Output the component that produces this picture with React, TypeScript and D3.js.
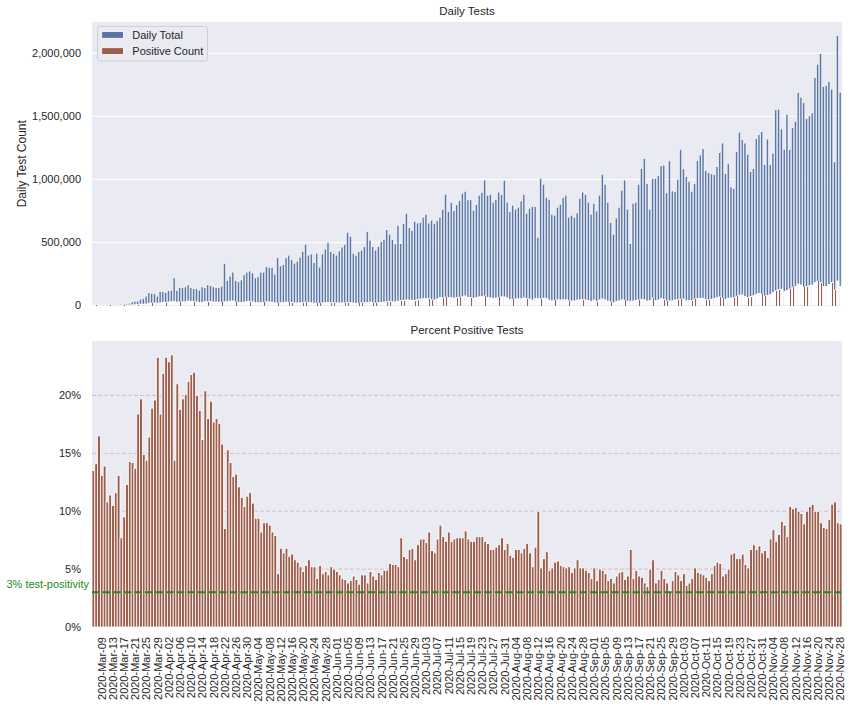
import React from "react";
import * as d3 from "d3";

const START_DATE = new Date(2020, 2, 6);
const N_DAYS = 268;

// Daily total tests (thousands)
const TOTAL_K = [
  2, 2, 3, 3, 4, 5, 5, 6, 7, 8,
  9, 9, 12, 18, 28, 34, 34, 49, 55, 74,
  101, 95, 92, 74, 110, 110, 101, 117, 120, 218,
  117, 141, 141, 147, 163, 141, 132, 132, 120, 147,
  141, 163, 156, 147, 141, 141, 153, 331, 196, 233,
  264, 196, 187, 202, 242, 264, 273, 258, 218, 227,
  264, 264, 307, 301, 301, 248, 378, 313, 325, 377,
  399, 362, 334, 350, 383, 429, 485, 399, 408, 340,
  414, 304, 408, 448, 500, 429, 414, 399, 432, 463,
  488, 580, 549, 414, 396, 429, 439, 466, 586, 518,
  469, 439, 466, 506, 524, 601, 564, 521, 488, 635,
  491, 647, 730, 616, 595, 669, 653, 659, 699, 724,
  653, 675, 647, 672, 699, 761, 880, 745, 816, 751,
  797, 831, 889, 905, 837, 837, 754, 800, 874, 896,
  994, 874, 880, 819, 840, 899, 880, 991, 819, 742,
  794, 764, 779, 828, 880, 730, 770, 785, 785, 540,
  1006, 960, 856, 840, 724, 715, 779, 800, 856, 874,
  699, 715, 699, 733, 850, 899, 880, 819, 724, 810,
  748, 874, 1040, 960, 819, 656, 564, 693, 779, 914,
  994, 764, 491, 810, 819, 960, 1086, 1165, 966, 764,
  1006, 1006, 1031, 1107, 1113, 892, 1147, 908, 902, 1000,
  1236, 1083, 1021, 985, 905, 966, 1147, 1193, 1242, 1070,
  1052, 1043, 1037, 1101, 1218, 1288, 1046, 1123, 939, 932,
  1218, 1374, 1313, 1288, 1202, 1061, 1086, 1322, 1353, 1383,
  1116, 1319, 1116, 1208, 1555, 1555, 1399, 1239, 1512, 1239,
  1408, 1460, 1690, 1650, 1607, 1481, 1503, 1527, 1806, 1911,
  1997, 1736, 1745, 1776, 1714, 1138, 2141, 1690,
];

// Positive count (thousands)
const POSITIVE_K = [
  0.3, 0.3, 0.5, 0.4, 0.6, 0.5, 0.6, 0.6, 0.8, 1.0,
  0.7, 0.9, 1.5, 2.6, 4.0, 4.7, 6.3, 9.7, 8.2, 10.7,
  16.6, 18.0, 18.0, 17.2, 20.2, 24.1, 23.5, 26.8, 28.2, 31.4,
  24.6, 26.5, 27.8, 29.5, 34.6, 30.7, 29.0, 26.4, 22.4, 23.8,
  28.8, 29.3, 30.4, 26.0, 25.4, 24.8, 24.2, 28.1, 30.0, 33.1,
  34.3, 25.9, 22.6, 22.6, 25.2, 29.8, 31.7, 27.6, 20.5, 21.3,
  21.6, 23.8, 27.6, 26.5, 24.7, 19.6, 17.4, 21.3, 20.8, 25.6,
  24.3, 22.8, 19.4, 19.6, 19.9, 20.6, 25.7, 23.1, 21.2, 17.7,
  17.4, 16.1, 18.8, 21.5, 22.5, 22.3, 20.7, 19.2, 19.4, 19.4,
  20.0, 22.0, 22.0, 18.2, 16.2, 15.9, 19.8, 21.0, 22.3, 24.9,
  20.6, 18.0, 21.9, 22.8, 25.7, 29.4, 31.0, 28.1, 26.4, 33.0,
  37.8, 39.5, 43.1, 41.3, 40.5, 38.8, 46.4, 50.1, 53.1, 52.9,
  53.5, 44.6, 41.4, 51.1, 61.5, 59.4, 65.1, 61.1, 60.4, 57.1,
  61.4, 64.0, 68.5, 75.1, 63.6, 61.9, 55.8, 62.4, 68.2, 69.9,
  73.6, 62.9, 59.0, 54.9, 58.0, 63.8, 67.8, 66.4, 59.0, 46.0,
  47.6, 51.2, 52.2, 53.0, 59.8, 52.6, 49.3, 40.8, 54.2, 54.0,
  51.3, 56.6, 55.6, 41.2, 36.9, 40.0, 44.4, 42.4, 44.5, 44.6,
  36.3, 33.6, 35.6, 42.5, 43.4, 45.8, 43.1, 38.5, 30.4, 41.3,
  29.9, 43.7, 51.0, 44.2, 32.8, 27.6, 21.4, 30.5, 36.6, 43.9,
  40.8, 33.6, 32.9, 34.0, 40.1, 42.2, 46.7, 44.3, 33.8, 38.2,
  58.3, 38.2, 42.3, 54.2, 46.7, 33.9, 34.4, 36.3, 43.3, 45.0,
  49.4, 49.8, 36.8, 37.4, 38.0, 49.3, 53.9, 54.9, 55.9, 46.0,
  42.1, 48.0, 55.0, 61.7, 67.0, 56.7, 48.1, 56.2, 59.2, 59.6,
  71.9, 81.1, 82.7, 69.6, 61.3, 71.1, 77.1, 88.6, 94.7, 88.5,
  73.7, 79.1, 84.8, 101.5, 115.1, 124.4, 127.3, 109.0, 117.9, 128.9,
  143.6, 150.4, 169.0, 161.7, 143.0, 148.1, 156.3, 161.9, 180.6, 191.1,
  179.7, 149.3, 148.3, 165.2, 181.7, 122.9, 192.7, 150.4,
];

// Percent positive
const PCT_POSITIVE = [
  13.5, 14.1, 16.5, 13.1, 13.9, 10.8, 11.4, 10.5, 11.6, 13.1,
  7.7, 9.5, 12.3, 14.3, 14.2, 13.7, 18.4, 19.7, 14.9, 14.4,
  16.4, 18.9, 19.6, 23.3, 18.4, 21.9, 23.3, 22.9, 23.5, 14.4,
  21.0, 18.8, 19.7, 20.1, 21.2, 21.8, 22.0, 20.0, 18.7, 16.2,
  20.4, 18.0, 19.5, 17.7, 18.0, 17.6, 15.8, 8.5, 15.3, 14.2,
  13.0, 13.2, 12.1, 11.2, 10.4, 11.3, 11.6, 10.7, 9.4, 9.4,
  8.2, 9.0, 9.0, 8.8, 8.2, 7.9, 4.6, 6.8, 6.4, 6.8,
  6.1, 6.3, 5.8, 5.6, 5.2, 4.8, 5.3, 5.8, 5.2, 5.2,
  4.2, 5.3, 4.6, 4.8, 4.5, 5.2, 5.0, 4.8, 4.5, 4.2,
  4.1, 3.8, 4.0, 4.4, 4.1, 3.7, 4.5, 4.5, 3.8, 4.8,
  4.4, 4.1, 4.7, 4.5, 4.9, 4.9, 5.5, 5.4, 5.4, 5.2,
  7.7, 6.1, 5.9, 6.7, 6.8, 5.8, 7.1, 7.6, 7.6, 7.3,
  8.2, 6.6, 6.4, 7.6, 8.8, 7.8, 7.4, 8.2, 7.4, 7.6,
  7.7, 7.7, 7.7, 8.3, 7.6, 7.4, 7.4, 7.8, 7.8, 7.8,
  7.4, 7.2, 6.7, 6.7, 6.9, 7.1, 7.7, 6.7, 7.2, 6.2,
  6.0, 6.7, 6.7, 6.4, 6.8, 7.2, 6.4, 5.2, 6.9, 10.0,
  5.1, 5.9, 6.5, 4.9, 5.1, 5.6, 5.7, 5.3, 5.2, 5.1,
  5.2, 4.7, 5.1, 5.8, 5.1, 5.1, 4.9, 4.7, 4.2, 5.1,
  4.0, 5.0, 4.9, 4.6, 4.0, 4.2, 3.8, 4.4, 4.7, 4.8,
  4.1, 4.4, 6.7, 4.2, 4.9, 4.4, 4.3, 3.8, 3.5, 5.0,
  5.8, 3.8, 4.1, 4.9, 4.2, 3.8, 3.0, 4.0, 4.8, 4.5,
  4.0, 4.6, 3.6, 3.8, 4.2, 5.1, 4.7, 4.6, 4.5, 4.3,
  4.0, 4.6, 5.3, 5.6, 5.5, 4.4, 4.6, 5.0, 6.3, 6.4,
  5.9, 5.9, 6.3, 5.4, 5.1, 6.7, 7.1, 6.7, 7.0, 6.4,
  6.6, 6.0, 7.6, 8.4, 7.4, 8.0, 9.1, 8.8, 7.8, 10.4,
  10.2, 10.3, 10.0, 9.8, 8.9, 10.0, 10.4, 10.6, 10.0, 10.0,
  9.0, 8.6, 8.5, 9.3, 10.6, 10.8, 9.0, 8.9,
];

const TOP_TICKS = [0, 500000, 1000000, 1500000, 2000000];
const BOTTOM_TICKS = [0, 5, 10, 15, 20];
const GRID_PCT = [5, 10, 15, 20];
const THRESHOLD_PCT = 3;
const LEGEND_LABELS = ["Daily Total", "Positive Count"];

const W = 852;
const H = 708;
const L = 92;
const R = 842;
const T1 = 22;
const B1 = 305.5;
const T2 = 341;
const B2 = 627;
const BLUE = "#5975a4";
const BROWN = "#9d5e4d";
const BG = "#EAEAF2";
const TXT = "#262626";
const GREEN = "#228B22";
const FONT = "'Liberation Sans', Arial, sans-serif";

export default function App() {
  const dates = d3.range(N_DAYS).map((i) => d3.timeDay.offset(START_DATE, i));
  const x = d3.scaleBand<number>().domain(d3.range(N_DAYS)).range([L, R]).padding(0);
  const bw = x.bandwidth();
  const y1 = d3.scaleLinear().domain([0, 2248000]).range([B1, T1]);
  const y2 = d3.scaleLinear().domain([0, 24.7]).range([B2, T2]);
  const fmt = d3.format(",");
  const dfmt = d3.timeFormat("%Y-%b-%d");
  const tickIdx = d3.range(3, N_DAYS, 4);

  return (
    <svg
      width={W}
      height={H}
      style={{ position: "absolute", left: 0, top: 0, background: "#fff" }}
      fontFamily={FONT}
    >
      {/* ---------- Top panel ---------- */}
      <rect x={L} y={T1} width={R - L} height={B1 - T1} fill={BG} />
      {TOP_TICKS.map((t) => (
        <g key={"tt" + t}>
          <line x1={L} x2={R} y1={y1(t)} y2={y1(t)} stroke="#fff" strokeWidth={1} />
          <text x={81} y={y1(t)} dy="0.35em" textAnchor="end" fontSize={11} fill={TXT}>
            {fmt(t)}
          </text>
        </g>
      ))}
      {TOTAL_K.map((v, i) => {
        const c = (x(i) as number) + bw / 2;
        const yy = y1(v * 1000);
        return (
          <rect
            key={"b" + i}
            x={c - 1.45}
            y={yy}
            width={1.95}
            height={B1 - yy}
            fill={BLUE}
            stroke="#fff"
            strokeWidth={0.45}
          />
        );
      })}
      {POSITIVE_K.map((v, i) => {
        const xi = x(i) as number;
        const yy = y1(v * 1000);
        return (
          <rect key={"pw" + i} x={xi} y={yy - 0.6} width={bw} height={B1 - yy + 0.6} fill="#fff" />
        );
      })}
      {POSITIVE_K.map((v, i) => {
        const c = (x(i) as number) + bw / 2;
        const yy = y1(v * 1000);
        return (
          <rect
            key={"pb" + i}
            x={c + 0.2}
            y={yy}
            width={0.3}
            height={B1 - yy}
            fill={BROWN}
            shapeRendering="crispEdges"
          />
        );
      })}
      <text x={(L + R) / 2} y={15} textAnchor="middle" fontSize={11.5} fill={TXT}>
        Daily Tests
      </text>
      <text
        transform={`translate(22,${(T1 + B1) / 2}) rotate(-90)`}
        textAnchor="middle"
        dy="0.35em"
        fontSize={12}
        fill={TXT}
      >
        Daily Test Count
      </text>
      {/* legend */}
      <g>
        <rect x={97.5} y={26.5} width={110} height={34.5} rx={2.5} fill={BG} stroke="#cfcfd6" strokeWidth={1} />
        {LEGEND_LABELS.map((lab, k) => (
          <g key={lab}>
            <rect
              x={101.7}
              y={31.5 + k * 16.2}
              width={21.7}
              height={6.8}
              fill={k === 0 ? BLUE : BROWN}
              stroke="#fff"
              strokeWidth={0.8}
            />
            <text x={132.3} y={35 + k * 16.2} dy="0.35em" fontSize={11} fill={TXT}>
              {lab}
            </text>
          </g>
        ))}
      </g>

      {/* ---------- Bottom panel ---------- */}
      <rect x={L} y={T2} width={R - L} height={B2 - T2} fill={BG} />
      {GRID_PCT.map((t) => (
        <line
          key={"g" + t}
          x1={L}
          x2={R}
          y1={y2(t)}
          y2={y2(t)}
          stroke="#dcbcc6"
          strokeWidth={1}
          strokeDasharray="4,2"
        />
      ))}
      {BOTTOM_TICKS.map((t) => (
        <text key={"bt" + t} x={81} y={y2(t)} dy="0.35em" textAnchor="end" fontSize={11} fill={TXT}>
          {t + "%"}
        </text>
      ))}
      {PCT_POSITIVE.map((v, i) => {
        const xi = x(i) as number;
        const yy = y2(v);
        return (
          <rect
            key={"p" + i}
            x={xi}
            y={yy}
            width={bw}
            height={B2 - yy}
            fill={BROWN}
            stroke="#fff"
            strokeWidth={0.8}
          />
        );
      })}
      <line
        x1={L}
        x2={R}
        y1={y2(THRESHOLD_PCT)}
        y2={y2(THRESHOLD_PCT)}
        stroke={GREEN}
        strokeWidth={2}
        strokeDasharray="7.4,3.2"
      />
      <text x={89} y={584.5} dy="0.35em" textAnchor="end" fontSize={11} fill={GREEN}>
        3% test-positivity
      </text>
      <text x={(L + R) / 2} y={334} textAnchor="middle" fontSize={11.5} fill={TXT}>
        Percent Positive Tests
      </text>
      {tickIdx.map((i) => {
        const c = (x(i) as number) + bw / 2;
        return (
          <text
            key={"xt" + i}
            transform={`translate(${c},637) rotate(-90)`}
            textAnchor="end"
            dy="0.35em"
            fontSize={11}
            fill={TXT}
          >
            {dfmt(dates[i])}
          </text>
        );
      })}
    </svg>
  );
}
